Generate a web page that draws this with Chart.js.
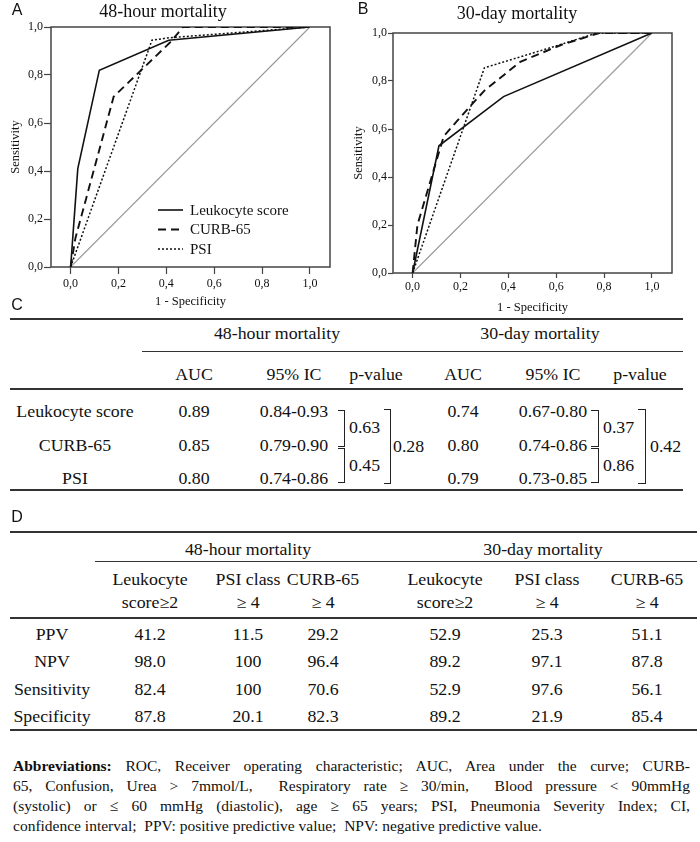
<!DOCTYPE html>
<html>
<head>
<meta charset="utf-8">
<script src="https://cdn.jsdelivr.net/npm/chart.js@4.4.1/dist/chart.umd.min.js"></script>
<style>
    body { margin: 0; background: #fff; }
    #page { position: relative; width: 700px; height: 842px; overflow: hidden; font-family: "Liberation Serif", "Times New Roman", serif; color: #111; }
    .c { position: absolute; white-space: nowrap; transform: translate(-50%, -50%) scaleX(1.08); line-height: 1; font-size: 16.5px; }
    .lft { position: absolute; white-space: nowrap; transform: translateY(-50%) scaleX(1.08); transform-origin: left center; line-height: 1; font-size: 16.5px; }
    .rule { position: absolute; height: 0; border-top: 2px solid #333; }
    .br { position: absolute; border: 1.5px solid #222; border-left: none; }
    .panel { position: absolute; font-family: "Liberation Sans", Arial, sans-serif; font-size: 16px; transform: translate(-50%, -50%); line-height: 1; }
    .ttl { font-size: 18px; transform: translate(-50%, -50%); }
    .abbr { position: absolute; left: 13px; width: 677px; font-size: 15.5px; line-height: 1; text-align: justify; text-align-last: justify; white-space: nowrap; transform: translateY(-50%); }
    canvas { position: absolute; top: 0; }
</style>
</head>
<body>
<div id="page">
    <canvas id="rocA" width="345" height="320" style="left:0"></canvas>
    <canvas id="rocB" width="350" height="320" style="left:350px"></canvas>
</div>
<script>
// ROC curves (x = 1 - specificity, y = sensitivity)
const seriesNames = ['Leukocyte score', 'CURB-65', 'PSI'];
const axisTicks = [0, 0.2, 0.4, 0.6, 0.8, 1.0];

// A - 48-hour mortality
const leuko48X = [0, 0.03, 0.12, 0.41, 1];
const leuko48Y = [0, 0.41, 0.82, 0.945, 1];
const curb48X = [0, 0.02, 0.18, 0.42, 0.47, 1];
const curb48Y = [0, 0.12, 0.71, 0.94, 1, 1];
const psi48X = [0, 0.34, 0.41, 1];
const psi48Y = [0, 0.945, 0.955, 1];

// B - 30-day mortality
const leuko30X = [0, 0.11, 0.38, 1];
const leuko30Y = [0, 0.53, 0.735, 1];
const curb30X = [0, 0.02, 0.13, 0.2, 0.3, 0.45, 0.62, 0.78, 1];
const curb30Y = [0, 0.2, 0.57, 0.65, 0.76, 0.88, 0.95, 1, 1];
const psi30X = [0, 0.3, 0.58, 0.77, 1];
const psi30Y = [0, 0.855, 0.94, 1, 1];

const refX = [0, 1];
const refY = [0, 1];

// table C
const cModels = ['Leukocyte score', 'CURB-65', 'PSI'];
const cHeads = ['AUC', '95% IC', 'p-value'];
const auc48 = ['0.89', '0.85', '0.80'];
const ci48 = ['0.84-0.93', '0.79-0.90', '0.74-0.86'];
const p48 = ['0.63', '0.45', '0.28'];
const auc30 = ['0.74', '0.80', '0.79'];
const ci30 = ['0.67-0.80', '0.74-0.86', '0.73-0.85'];
const p30 = ['0.37', '0.86', '0.42'];

// table D
const dRows = ['PPV', 'NPV', 'Sensitivity', 'Specificity'];
const dHeads = [['Leukocyte', 'score\u22652'], ['PSI class', '\u2265 4'], ['CURB-65', '\u2265 4']];
const leukoD48 = ['41.2', '98.0', '82.4', '87.8'];
const psiD48 = ['11.5', '100', '100', '20.1'];
const curbD48 = ['29.2', '96.4', '70.6', '82.3'];
const leukoD30 = ['52.9', '89.2', '52.9', '89.2'];
const psiD30 = ['25.3', '97.1', '97.6', '21.9'];
const curbD30 = ['51.1', '87.8', '56.1', '85.4'];

const abbrLines = [
    '<b>Abbreviations:</b> ROC, Receiver operating characteristic; AUC, Area under the curve; CURB-',
    '65, Confusion, Urea &gt; 7mmol/L,&nbsp; Respiratory rate \u2265 30/min,&nbsp; Blood pressure &lt; 90mmHg',
    '(systolic) or \u2264 60 mmHg (diastolic), age \u2265 65 years; PSI, Pneumonia Severity Index; CI,',
    'confidence interval;&nbsp; PPV: positive predictive value;&nbsp; NPV: negative predictive value.'
];

const page = document.getElementById('page');

function put(cls, x, y, html) {
    const d = document.createElement('div');
    d.className = cls;
    d.style.left = x + 'px';
    d.style.top = y + 'px';
    d.innerHTML = html;
    page.appendChild(d);
    return d;
}
function rule(x1, x2, y, w) {
    const d = put('rule', x1, y - (w || 2) / 2, '');
    d.style.width = (x2 - x1) + 'px';
    d.style.borderTopWidth = (w || 2) + 'px';
}
function bracket(x, y1, y2, w) {
    const d = put('br', x, y1, '');
    d.style.width = w + 'px';
    d.style.height = (y2 - y1) + 'px';
}

// box around the plot area
const frame = {
    id: 'frame',
    beforeDatasetsDraw(chart) {
        const a = chart.chartArea, ctx = chart.ctx;
        ctx.save();
        ctx.strokeStyle = '#444';
        ctx.lineWidth = 1.5;
        ctx.strokeRect(a.left, a.top, a.right - a.left, a.bottom - a.top);
        ctx.restore();
    }
};

// legend drawn inside panel A
const innerLegend = {
    id: 'innerLegend',
    afterDatasetsDraw(chart, args, opts) {
        if (!opts.show) return;
        const ctx = chart.ctx;
        ctx.save();
        ctx.font = '15px "Liberation Serif", serif';
        ctx.fillStyle = '#111';
        ctx.textBaseline = 'middle';
        chart.data.datasets.forEach((ds, i) => {
            if (i >= seriesNames.length) return;
            const y = opts.y + i * opts.gap;
            ctx.strokeStyle = ds.borderColor;
            ctx.lineWidth = ds.borderWidth;
            ctx.setLineDash(ds.borderDash || []);
            ctx.beginPath();
            ctx.moveTo(opts.x, y);
            ctx.lineTo(opts.x + 25, y);
            ctx.stroke();
            ctx.fillText(ds.label, opts.x + 32, y + 1);
        });
        ctx.restore();
    }
};

function pts(xs, ys) { return xs.map((x, i) => ({ x: x, y: ys[i] })); }
const fmt = v => v.toFixed(1).replace('.', ',');

function rocChart(id, series, cfg) {
    const styles = [
        { borderDash: [], borderWidth: 1.6 },
        { borderDash: [8, 5], borderWidth: 1.9 },
        { borderDash: [2, 2], borderWidth: 1.5 }
    ];
    const datasets = series.map((s, i) => Object.assign({
        label: seriesNames[i], data: pts(s[0], s[1]), borderColor: '#111',
        showLine: true, pointRadius: 0, tension: 0, fill: false
    }, styles[i]));
    datasets.push({ label: 'ref', data: pts(refX, refY), borderColor: '#9a9a9a', borderWidth: 1.2, showLine: true, pointRadius: 0 });

    new Chart(document.getElementById(id), {
        type: 'scatter',
        data: { datasets: datasets },
        plugins: [frame, innerLegend],
        options: {
            responsive: false,
            devicePixelRatio: 1,
            animation: false,
            layout: { padding: { top: cfg.top, right: cfg.right, bottom: 0, left: 0 } },
            plugins: {
                legend: { display: false },
                tooltip: { enabled: false },
                innerLegend: cfg.legend || { show: false }
            },
            scales: {
                x: {
                    type: 'linear', min: -0.082, max: 1.084,
                    afterBuildTicks: s => { s.ticks = axisTicks.map(v => ({ value: v })); },
                    afterFit: s => { s.height = cfg.xh; },
                    grid: { drawOnChartArea: false, tickLength: cfg.tick, tickColor: '#444', tickWidth: 1.2 },
                    border: { display: false },
                    ticks: { callback: fmt, color: '#111', padding: cfg.xpad, maxRotation: 0, font: { family: '"Liberation Serif", serif', size: 12 } },
                    title: { display: true, text: '1 - Specificity', color: '#111', padding: { top: 2, bottom: cfg.xtb }, font: { family: '"Liberation Serif", serif', size: 12.5 } }
                },
                y: {
                    type: 'linear', min: 0, max: 1,
                    afterBuildTicks: s => { s.ticks = axisTicks.map(v => ({ value: v })); },
                    afterFit: s => { s.width = cfg.yw; },
                    grid: { drawOnChartArea: false, tickLength: cfg.tick, tickColor: '#444', tickWidth: 1.2 },
                    border: { display: false },
                    ticks: { callback: fmt, color: '#111', padding: 1, font: { family: '"Liberation Serif", serif', size: 12 } },
                    title: { display: true, text: 'Sensitivity', color: '#111', padding: { top: cfg.ytp, bottom: 0 }, font: { family: '"Liberation Serif", serif', size: 12.5 } }
                }
            }
        }
    });
}

rocChart('rocA', [[leuko48X, leuko48Y], [curb48X, curb48Y], [psi48X, psi48Y]],
    { top: 27, right: 15, yw: 51, xh: 53, tick: 7, xpad: 3, xtb: 11, ytp: 8, legend: { show: true, x: 158, y: 210, gap: 19.5 } });
rocChart('rocB', [[leuko30X, leuko30Y], [curb30X, curb30Y], [psi30X, psi30Y]],
    { top: 33, right: 28, yw: 43, xh: 47, tick: 5, xpad: 2, xtb: 5, ytp: 1 });

// panel headings
put('panel', 17, 10, 'A');
put('c ttl', 163, 11, '48-hour mortality');
put('panel', 363, 9, 'B');
put('c ttl', 517, 13, '30-day mortality');

// ---- table C ----
put('panel', 17, 305, 'C');
rule(10, 683, 319, 2);
put('c', 277, 334, '48-hour mortality');
put('c', 540, 334, '30-day mortality');
rule(142, 683, 352, 1.5);
const cHeadX = [194, 294, 376, 463, 553, 640];
cHeads.concat(cHeads).forEach((h, i) => put('c', cHeadX[i], 375, h));
rule(10, 683, 389, 2.5);
const cRowY = [412, 446, 479];
cModels.forEach((m, i) => {
    put('c', 75, cRowY[i], m);
    put('c', 194, cRowY[i], auc48[i]);
    put('c', 294, cRowY[i], ci48[i]);
    put('c', 463, cRowY[i], auc30[i]);
    put('c', 553, cRowY[i], ci30[i]);
});
bracket(338, 410, 445, 6);
bracket(338, 448, 481, 6);
bracket(384, 409, 482, 6);
put('lft', 349, 428, p48[0]);
put('lft', 349, 466, p48[1]);
put('lft', 393, 447, p48[2]);
bracket(591, 410, 445, 7);
bracket(591, 448, 481, 7);
bracket(638, 409, 482, 7);
put('lft', 603, 428, p30[0]);
put('lft', 603, 466, p30[1]);
put('lft', 650, 447, p30[2]);
rule(10, 683, 490, 2);

// ---- table D ----
put('panel', 17, 517, 'D');
rule(10, 697, 532, 2);
put('c', 248, 550, '48-hour mortality');
put('c', 543, 550, '30-day mortality');
rule(95, 697, 562, 1.5);
const dColX = [150, 248, 323, 445, 547, 647];
dHeads.concat(dHeads).forEach((h, i) => {
    put('c', dColX[i], 580, h[0]);
    put('c', dColX[i], 603, h[1]);
});
rule(10, 697, 618, 2);
const dRowY = [635, 662, 690, 717];
const dCols = [leukoD48, psiD48, curbD48, leukoD30, psiD30, curbD30];
dRows.forEach((r, i) => {
    put('c', 52, dRowY[i], r);
    dCols.forEach((col, j) => put('c', dColX[j], dRowY[i], col[i]));
});
rule(10, 697, 730, 2);

// ---- abbreviations ----
const abbrY = [766, 786, 806, 826];
abbrLines.forEach((l, i) => {
    const d = put('abbr', 13, abbrY[i], l);
    if (i === abbrLines.length - 1) { d.style.textAlign = 'left'; d.style.textAlignLast = 'left'; }
});
</script>
</body>
</html>
